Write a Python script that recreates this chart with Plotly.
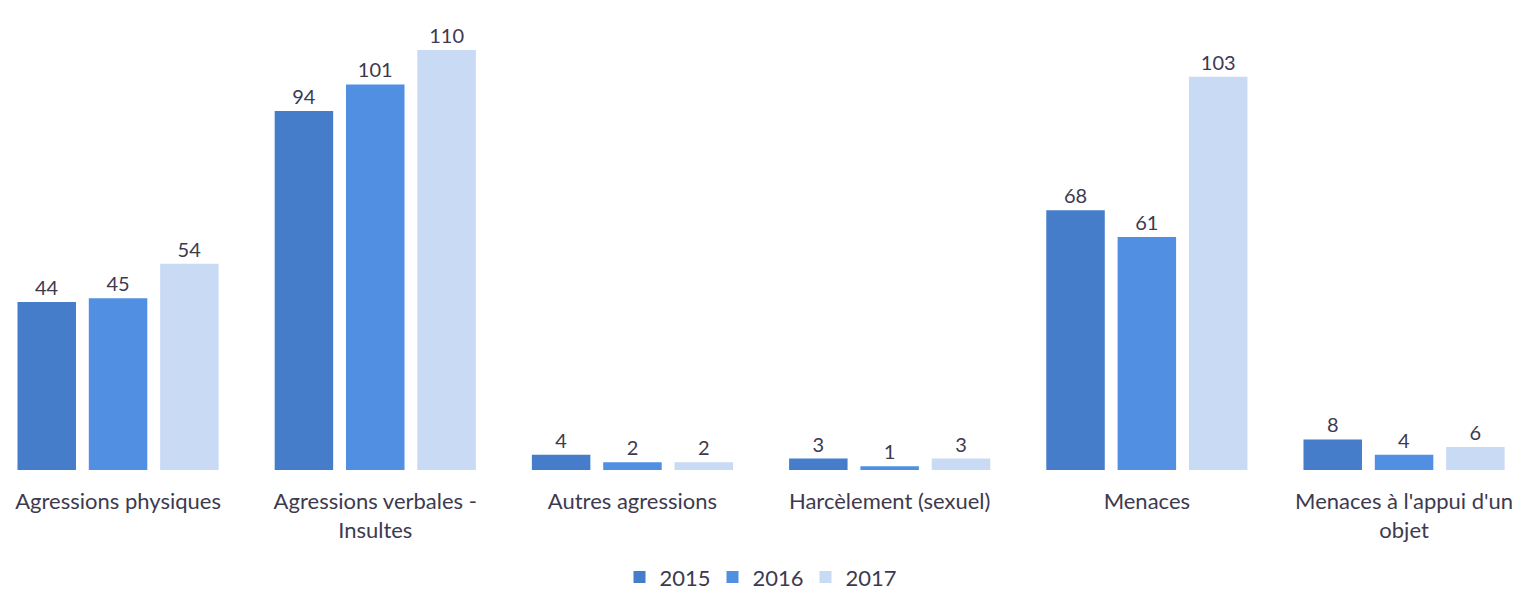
import plotly.graph_objects as go

categories = ["Agressions physiques", "Agressions verbales -<br>Insultes", "Autres agressions",
              "Harcèlement (sexuel)", "Menaces", "Menaces à l'appui d'un<br>objet"]
years = ["2015", "2016", "2017"]
v2015 = [44, 94, 4, 3, 68, 8]
v2016 = [45, 101, 2, 1, 61, 4]
v2017 = [54, 110, 2, 3, 103, 6]
colors = ["#467dcb", "#518fe3", "#c9daf4"]

FONT = "Lato, 'Open Sans', sans-serif"
TXT = "#3d3a4f"

fig = go.Figure()
for name, vals, col in zip(years, [v2015, v2016, v2017], colors):
    fig.add_trace(go.Bar(
        name=name, x=categories, y=vals, marker=dict(color=col, line=dict(width=0)),
        text=vals, textposition="outside", cliponaxis=False,
        textfont=dict(family=FONT, size=20, color=TXT),
    ))

fig.update_layout(
    width=1518, height=592,
    margin=dict(l=0, r=0, t=0, b=122, autoexpand=False),
    paper_bgcolor="white", plot_bgcolor="white",
    barmode="group", bargap=0.168, bargroupgap=0.18,
    font=dict(family=FONT, size=20, color=TXT),
    showlegend=True,
    legend=dict(orientation="h", x=0.5, xanchor="center", y=-0.228, yanchor="middle",
                font=dict(family=FONT, size=22, color=TXT), itemwidth=30,
                entrywidth=48, entrywidthmode="pixels",
                traceorder="normal"),
)
fig.update_xaxes(type="category", range=[-0.459, 5.443], showline=False, showgrid=False,
                 automargin=False, ticks="", ticklabelstandoff=16,
                 tickfont=dict(family=FONT, size=22, color=TXT))
fig.update_yaxes(range=[0, 123.1], visible=False, showgrid=False, zeroline=False,
                 automargin=False)

fig.write_html("out.html", config={"displayModeBar": False},
               post_script="document.body.style.margin='0';document.body.style.overflow='hidden';")
